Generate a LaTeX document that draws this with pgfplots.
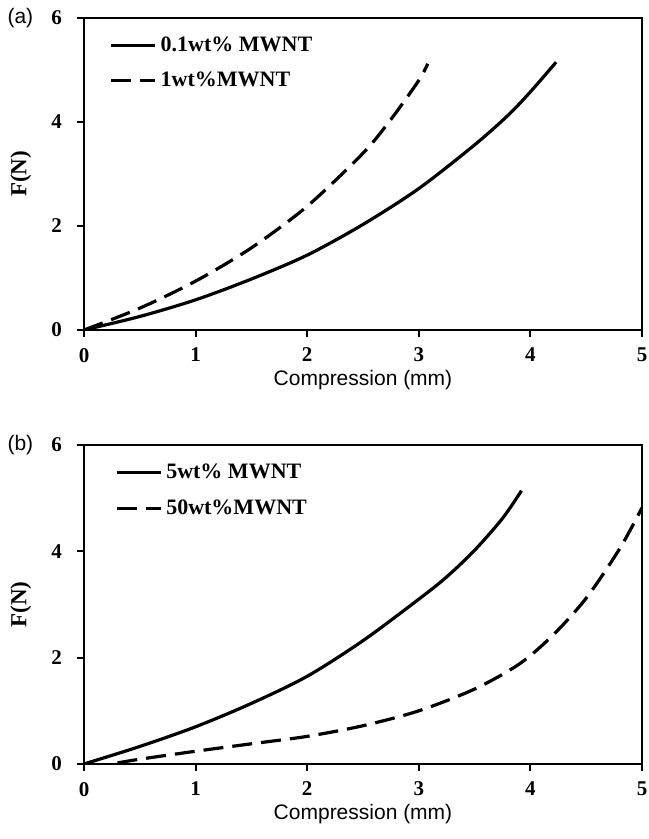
\documentclass[border=0pt]{standalone}
\usepackage{pgfplots}
\pgfplotsset{compat=1.18}
\usepackage{fontspec}
\setmainfont{Liberation Serif}
\newfontfamily\arial{Liberation Sans}

% curves
\pgfplotstableread{
x y
0    0
0.5  0.26
1.0  0.58
1.5  0.98
2.0  1.44
2.5  2.03
3.0  2.72
3.5  3.56
3.8  4.13
4.0  4.58
4.23 5.15
}\aone
\pgfplotstableread{
x y
0    0
0.5  0.42
1.0  0.94
1.5  1.58
2.0  2.38
2.5  3.40
2.75 4.05
3.0  4.80
3.08 5.12
}\atwo
\pgfplotstableread{
x y
0    0
0.5  0.33
1.0  0.70
1.5  1.14
2.0  1.65
2.5  2.32
3.0  3.10
3.25 3.52
3.5  4.02
3.75 4.62
3.92 5.14
}\bone
\pgfplotstableread{
x y
0.3  0.02
0.5  0.09
1.0  0.24
1.5  0.38
2.0  0.52
2.5  0.72
3.0  1.00
3.5  1.41
3.9  1.88
4.2  2.42
4.5  3.12
4.8  4.05
5.0  4.82
}\btwo

\pgfplotsset{
  panel/.style={
    anchor=north west, scale only axis, width=279pt,
    xmin=0, xmax=5, ymin=0, ymax=6,
    xtick={0,1,2,3,4,5}, ytick={0,2,4,6},
    tick align=outside, xtick pos=bottom, ytick pos=left,
    major tick length=3.5pt,
    every tick/.style={black, line width=1pt},
    axis line style={line width=1.2pt},
    clip mode=individual,
    /pgf/number format/assume math mode=true,
    ticklabel style={font=\bfseries\fontsize{10.5}{12}\selectfont},
    xticklabel style={yshift=-2pt},
    yticklabel style={xshift=-4pt},
    ylabel={F(N)},
    ylabel style={font=\bfseries\fontsize{11.5}{13}\selectfont,
      at={(axis description cs:-0.113,0.5)}, anchor=center},
    xlabel={Compression (mm)},
    xlabel style={font=\arial\fontsize{10.5}{12}\selectfont,
      at={(axis description cs:0.5,0)}, anchor=center, yshift=-25pt},
    legend style={draw=none, fill=none, at={(axis description cs:0.045,0.955)},
      anchor=north west, font=\bfseries\fontsize{11}{13}\selectfont,
      row sep=5pt, inner sep=0pt},
    legend cell align=left,
    legend image code/.code={\draw[#1] (0pt,0pt) -- (22pt,0pt);},
    solidc/.style={black, line width=1.6pt, smooth, no marks},
    dashc/.style={black, line width=1.6pt, smooth, no marks,
      dash pattern=on 10pt off 4.5pt},
  }
}

\begin{document}
\begin{tikzpicture}
\path[use as bounding box] (0,0) rectangle (324pt,-419.5pt);

\begin{axis}[panel, at={(42pt,-9pt)}, height=156pt]
  \addplot[solidc] table {\aone};
  \addlegendentry{0.1wt\% MWNT}
  \addplot[dashc] table {\atwo};
  \addlegendentry{1wt\%MWNT}
  \node[font=\arial\fontsize{10.5}{12}\selectfont] at (axis description cs:-0.114,1.0) {(a)};
\end{axis}

\begin{axis}[panel, at={(42pt,-222.5pt)}, height=159.5pt,
  legend style={at={(axis description cs:0.055,0.955)}}]
  \addplot[solidc] table {\bone};
  \addlegendentry{5wt\% MWNT}
  \addplot[dashc] table {\btwo};
  \addlegendentry{50wt\%MWNT}
  \node[font=\arial\fontsize{10.5}{12}\selectfont] at (axis description cs:-0.114,1.0) {(b)};
\end{axis}
\end{tikzpicture}
\end{document}
